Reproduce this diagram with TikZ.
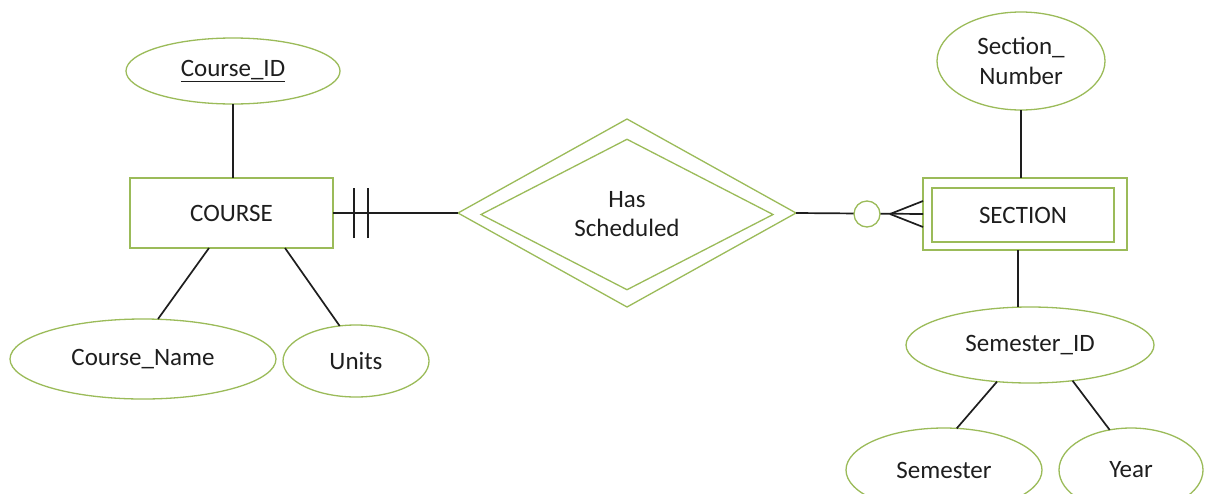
\documentclass[tikz,border=0pt]{standalone}
\usepackage{fontspec}
\setmainfont{Carlito}
\usetikzlibrary{shapes.geometric}
\definecolor{ergreen}{HTML}{9BBB59}
\definecolor{erink}{HTML}{1E1E1E}
\begin{document}
\begin{tikzpicture}[x=1pt,y=-1pt,
  every node/.style={inner sep=0pt,outer sep=0pt,text=erink,
    font=\fontsize{25}{29}\selectfont},
  attr/.style={ellipse,draw=ergreen,line width=1.3pt,fill=white},
  entity/.style={rectangle,draw=ergreen,line width=1.3pt,fill=white},
  rel/.style={diamond,draw=ergreen,line width=1.3pt},
  link/.style={draw=erink,line width=1.7pt}]
\useasboundingbox (0,0) rectangle (1206,493);
\fill[white] (0,0) rectangle (1206,493);

% COURSE entity and its attributes
\node[entity,minimum width=203,minimum height=70] (course) at (231.5,213) {COURSE};
\node[attr,minimum width=214,minimum height=66] (cid) at (233,71) {\underline{Course\_ID}};
\node[attr,minimum width=266,minimum height=80] (cname) at (143,359) {Course\_Name};
\node[attr,minimum width=146,minimum height=72] (units) at (356,361) {Units};

% relationship
\node[rel,minimum width=338,minimum height=188] (has) at (627,213) {};
\node[rel,minimum width=292,minimum height=145,align=center] (hasin) at (627,214.5) {Has\\Scheduled};

% SECTION weak entity and its attributes
\node[entity,minimum width=204,minimum height=72] (section) at (1025,214) {};
\node[entity,minimum width=182,minimum height=54] (sectionin) at (1023,215) {SECTION};
\node[attr,minimum width=168,minimum height=98,align=center,
  font=\fontsize{25}{30}\selectfont] (snum) at (1021,61) {Section\_\\Number};
\node[attr,minimum width=248,minimum height=76] (semid) at (1030,345) {Semester\_ID};
\node[attr,minimum width=196,minimum height=84] (sem) at (944,470) {Semester};
\node[attr,minimum width=144,minimum height=84] (year) at (1131,470) {Year};

% attribute links
\draw[link] (cid.south) -- (cid.south |- course.north);
\draw[link] ([xshift=-22.5pt]course.south) -- ([xshift=15pt]cname.north);
\draw[link] ([xshift=53.5pt]course.south) -- (units.115);
\draw[link] (snum.south) -- (snum.south |- section.north);
\draw[link] ([xshift=-7pt]section.south) -- ([xshift=-12pt]semid.north);
\draw[link] (semid.228) -- (sem.73);
\draw[link] (semid.320) -- (year.118);

% COURSE side: exactly one (two bars)
\draw[link] (course.east) -- (has.west);
\draw[link] ([xshift=21pt,yshift=-25pt]course.east) -- ([xshift=21pt,yshift=25pt]course.east);
\draw[link] ([xshift=35pt,yshift=-25pt]course.east) -- ([xshift=35pt,yshift=25pt]course.east);

% SECTION side: zero or many (circle and crow's foot)
\draw[link] (has.east) -- (section.west);
\coordinate (foot) at ([xshift=-33pt]section.west);
\draw[link] (foot) -- ([yshift=-13pt]section.west);
\draw[link] (foot) -- ([yshift=13pt]section.west);
\node[circle,draw=ergreen,line width=1.3pt,fill=white,minimum size=26] (opt) at ([xshift=-56pt]section.west) {};
\end{tikzpicture}
\end{document}
